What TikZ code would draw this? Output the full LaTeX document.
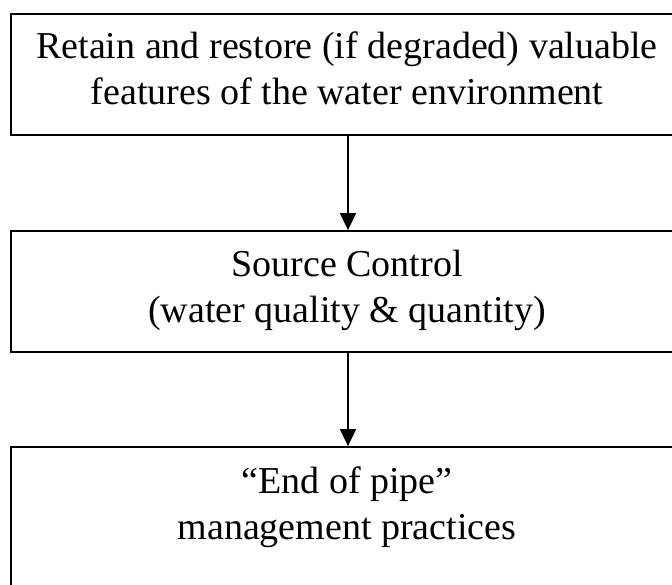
\documentclass[tikz,border=0pt]{standalone}
\usepackage{fontspec}
\setmainfont{Liberation Serif}
\usetikzlibrary{arrows.meta}
\begin{document}
\begin{tikzpicture}[x=1pt,y=-1pt,
  box/.style={draw=black,line width=1.8pt,minimum width=674pt,inner sep=0pt},
  lbl/.style={align=center,inner sep=0pt,font=\fontsize{38}{46}\selectfont},
  arr/.style={line width=1.8pt,-{Triangle[length=17pt,width=16pt]}}]
\useasboundingbox (0,0) rectangle (672,584);
\clip (0,0) rectangle (672,584);
\node[box,minimum height=121pt] (b1) at (348,74.5) {};
\node[box,minimum height=121pt] (b2) at (348,291.5) {};
\node[box,minimum height=160pt] (b3) at (348,527) {};
\node[lbl] (t1) at (347,68) {Retain and restore (if degraded) valuable\\features of the water environment};
\node[lbl] (t2) at (347,290) {Source Control\\(water quality \& quantity)};
\node[lbl] (t3) at (347,507) {“End of pipe”\\management practices};
\draw[arr] (b1.south) -- (b2.north);
\draw[arr] (b2.south) -- (b3.north);
\end{tikzpicture}
\end{document}
